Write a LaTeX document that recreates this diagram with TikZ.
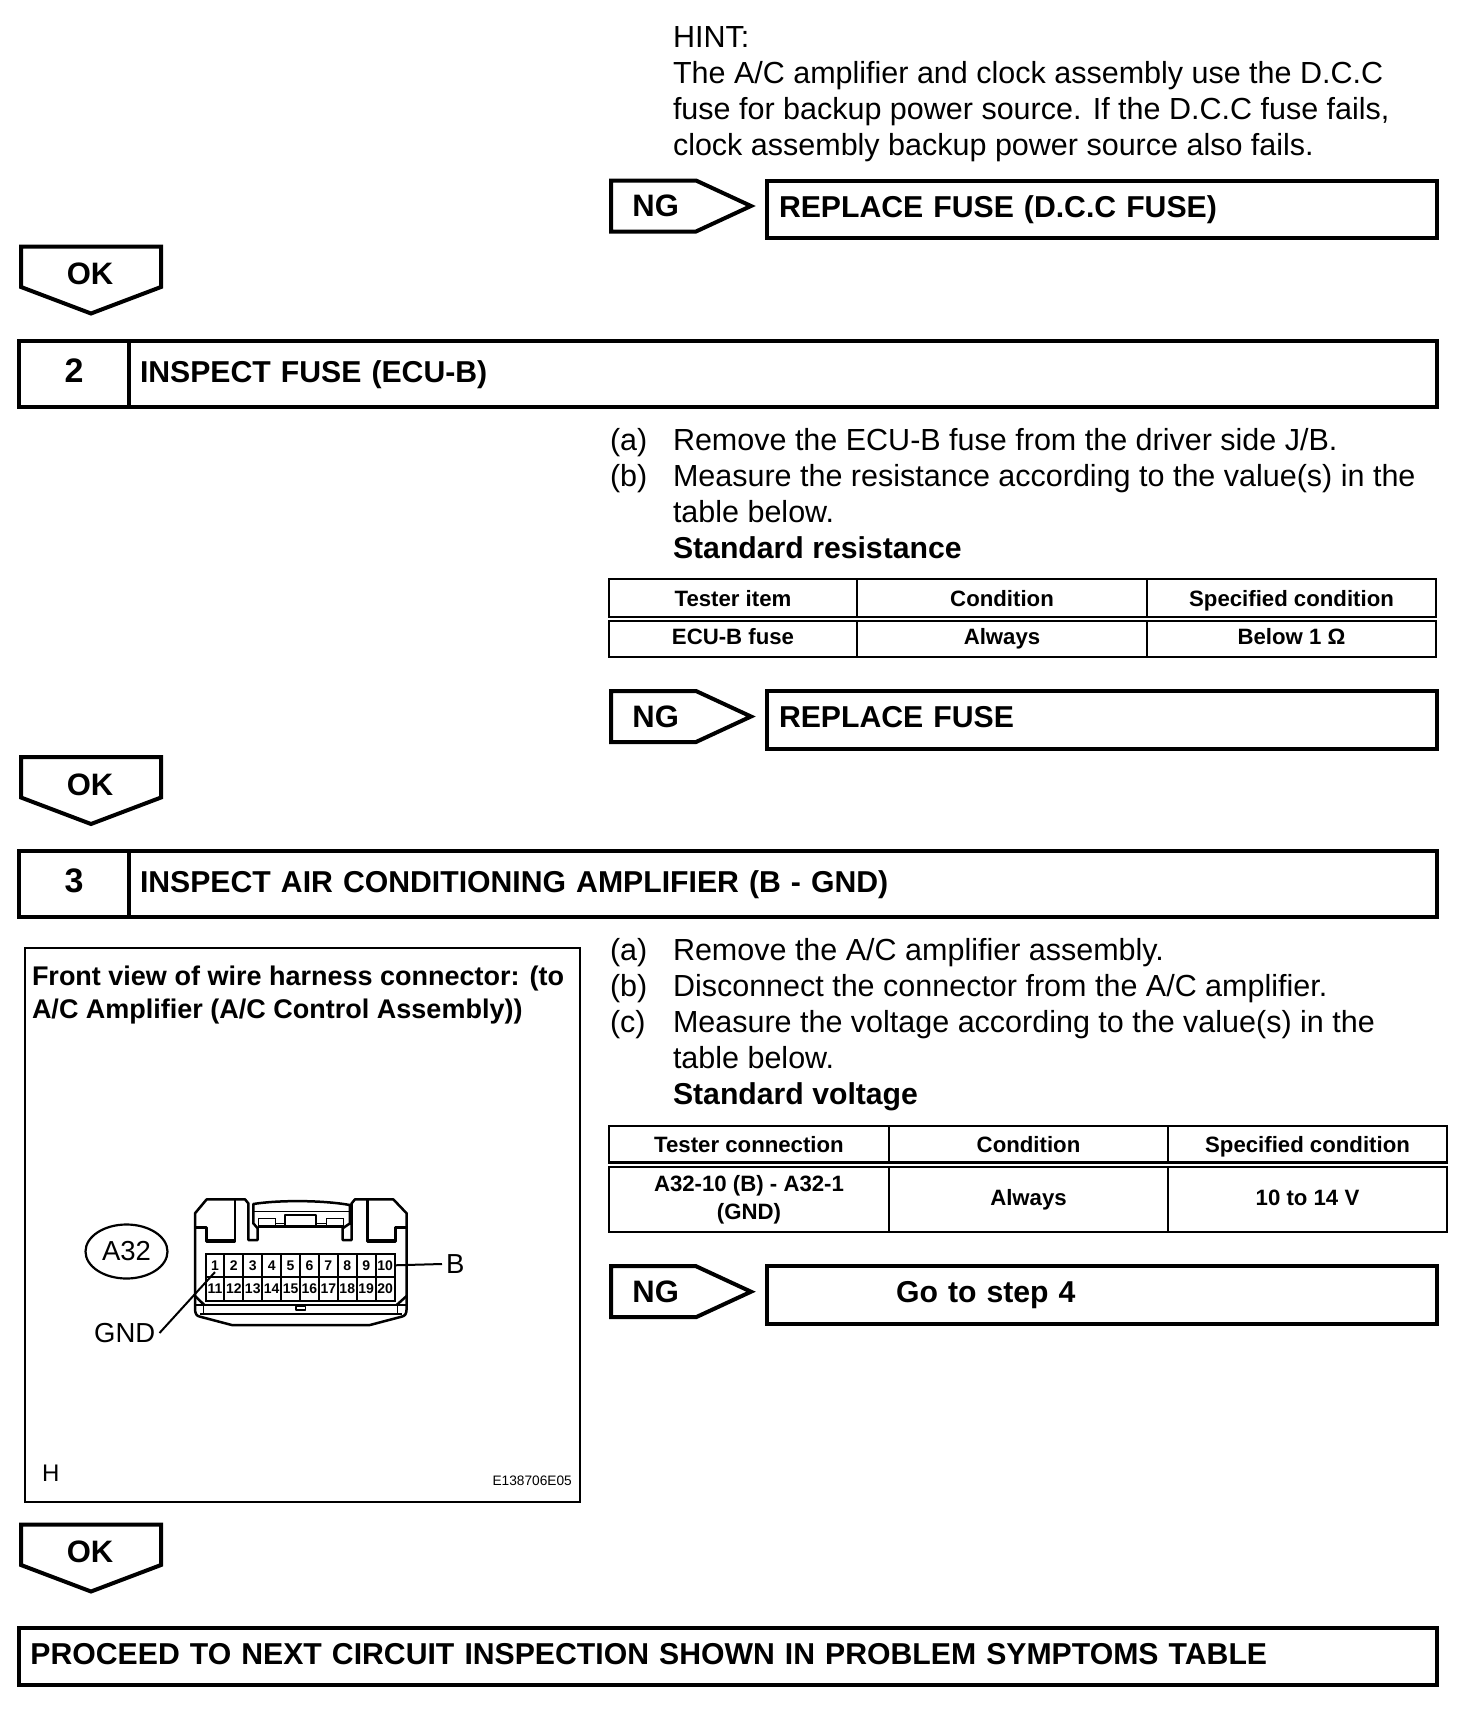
\documentclass[tikz,border=0pt]{standalone}
\usepackage{fontspec}
\setmainfont{Liberation Sans}
\usetikzlibrary{positioning,shapes.geometric}

\begin{document}
\begin{tikzpicture}[
  x=1pt, y=-1pt,
  bodytext/.style={inner sep=0pt, outer sep=0pt, anchor=north west, align=left,
                   font=\fontsize{30.5}{36}\selectfont, text height=27pt, text depth=9.1pt},
  nextline/.style={below=0pt of #1.south west, anchor=north west},
  boldtext/.style={bodytext, font=\fontsize{30.2}{36}\selectfont\bfseries},
  tagline/.style={draw, line width=4pt, line join=miter},
  tagtext/.style={inner sep=0pt, font=\fontsize{31}{36}\selectfont\bfseries},
  resultbox/.style={draw, line width=4pt, inner sep=0pt, outer sep=0pt, anchor=north west,
                    minimum height=#1, text height=21pt, text depth=5.4pt, align=left,
                    font=\fontsize{30.2}{36}\selectfont\bfseries},
  resultbox/.default=57.5pt,
  stepnum/.style={resultbox=66pt, minimum width=110pt, align=center, text width=110pt,
                  text depth=3.4pt, font=\fontsize{34}{36}\selectfont\bfseries},
  steptitle/.style={resultbox=66pt, minimum width=1308pt, text width=1286pt, text depth=3.4pt},
  cellbox/.style={draw, line width=2.6pt, inner sep=0pt, outer sep=0pt, anchor=north west,
                  align=center, text height=16.5pt, text depth=4.8pt,
                  font=\fontsize{22.2}{28.5}\selectfont\bfseries},
  headcell/.style={cellbox, text depth=0pt},
  pincell/.style={draw, line width=2pt, inner sep=0pt, outer sep=0pt, anchor=north west,
                  minimum width=18.9pt, minimum height=23.6pt,
                  font=\fontsize{14}{14}\selectfont\bfseries},
  conn/.style={draw, line width=2.5pt, line join=round},
  thinconn/.style={draw, line width=1.4pt},
  leader/.style={draw, line width=2pt},
  pinlabel/.style={inner sep=0pt, font=\fontsize{27.5}{30}\selectfont}
]
  \useasboundingbox (0,0) rectangle (1456,1718);

  % hint text
  \node[bodytext] (hint) at (673,20.5) {HINT:};
  \node[bodytext, nextline=hint] (hinta) {The A/C amplifier and clock assembly use the D.C.C};
  \node[bodytext, nextline=hinta] (hintb) {fuse for backup power source. If the D.C.C fuse fails,};
  \node[bodytext, nextline=hintb] (hintc) {clock assembly backup power source also fails.};

  % NG tags and OK tags
  \foreach \tagname/\dy in {nga/0,ngb/510.5,ngc/1085.7} {
    \draw[tagline] (611,{180.5+\dy}) -- (696,{180.5+\dy}) -- (751,{206+\dy}) -- (696,{231.5+\dy})
      -- (611,{231.5+\dy}) -- cycle;
    \node[tagtext] (\tagname) at (655.7,{206+\dy}) {NG};
  }
  \foreach \tagname/\dy in {oka/0,okb/510.5,okc/1278} {
    \draw[tagline] (21,{246.5+\dy}) -- (161,{246.5+\dy}) -- (161,{287+\dy}) -- (91,{313.5+\dy})
      -- (21,{287+\dy}) -- cycle;
    \node[tagtext] (\tagname) at (90,{274+\dy}) {OK};
  }

  % result boxes
  \node[resultbox, minimum width=670pt, text width=646pt] (repa) at (767,180.5) {REPLACE FUSE (D.C.C FUSE)};
  \node[resultbox, minimum width=670pt, text width=646pt] (repb) at (767,691) {REPLACE FUSE};
  \node[resultbox, minimum width=670pt, text width=646pt] (gostep) at (767,1266.2) {\hspace*{117pt}Go to step 4};
  \node[resultbox=57pt, minimum width=1418pt, text width=1395pt] (proceed) at (19,1628)
    {PROCEED TO NEXT CIRCUIT INSPECTION SHOWN IN PROBLEM SYMPTOMS TABLE};

  % step 2
  \node[stepnum] (numtwo) at (19,341) {2};
  \node[steptitle, right=0pt of numtwo] (titletwo) {INSPECT FUSE (ECU-B)};
  \node[bodytext] (twoa) at (610,423.5) {(a)};
  \node[bodytext, nextline=twoa] (twob) {(b)};
  \node[bodytext] (twoatext) at (673,423.5) {Remove the ECU-B fuse from the driver side J/B.};
  \node[bodytext, nextline=twoatext] (twobtext) {Measure the resistance according to the value(s) in the};
  \node[bodytext, nextline=twobtext] (twoctext) {table below.};
  \node[boldtext, nextline=twoctext] (twostd) {Standard resistance};

  \node[headcell, minimum width=248pt, minimum height=38pt] (heada) at (609,579) {Tester item};
  \node[headcell, minimum width=290pt, minimum height=38pt, right=0pt of heada] (headb) {Condition};
  \node[headcell, minimum width=289pt, minimum height=38pt, right=0pt of headb] (headc) {Specified condition};
  \node[cellbox, minimum width=248pt, minimum height=36pt] (vala) at (609,621) {ECU-B fuse};
  \node[cellbox, minimum width=290pt, minimum height=36pt, right=0pt of vala] (valb) {Always};
  \node[cellbox, minimum width=289pt, minimum height=36pt, right=0pt of valb] (valc) {Below 1 Ω};

  % step 3
  \node[stepnum] (numthree) at (19,851) {3};
  \node[steptitle, right=0pt of numthree] (titlethree) {INSPECT AIR CONDITIONING AMPLIFIER (B - GND)};
  \node[bodytext] (threea) at (610,933.5) {(a)};
  \node[bodytext, nextline=threea] (threeb) {(b)};
  \node[bodytext, nextline=threeb] (threec) {(c)};
  \node[bodytext] (threeatext) at (673,933.5) {Remove the A/C amplifier assembly.};
  \node[bodytext, nextline=threeatext] (threebtext) {Disconnect the connector from the A/C amplifier.};
  \node[bodytext, nextline=threebtext] (threectext) {Measure the voltage according to the value(s) in the};
  \node[bodytext, nextline=threectext] (threedtext) {table below.};
  \node[boldtext, nextline=threedtext] (threestd) {Standard voltage};

  \node[headcell, minimum width=280pt, minimum height=36.5pt] (headd) at (609,1126) {Tester connection};
  \node[headcell, minimum width=279pt, minimum height=36.5pt, right=0pt of headd] (heade) {Condition};
  \node[headcell, minimum width=279pt, minimum height=36.5pt, right=0pt of heade] (headf) {Specified condition};
  \node[cellbox, text height=, text depth=, minimum width=280pt, minimum height=65pt] (vald) at (609,1167) {A32-10 (B) - A32-1\\(GND)};
  \node[cellbox, minimum width=279pt, minimum height=65pt, right=0pt of vald] (vale) {Always};
  \node[cellbox, minimum width=279pt, minimum height=65pt, right=0pt of vale] (valf) {10 to 14 V};

  % connector panel
  \node[draw, line width=2.4pt, inner sep=0pt, outer sep=0pt, anchor=north west,
        minimum width=555pt, minimum height=554pt] (panel) at (25,948) {};
  \node[bodytext, font=\fontsize{27}{33}\selectfont\bfseries, text height=, text depth=] (paneltitle) at (32,966)
    {Front view of wire harness connector: (to\\A/C Amplifier (A/C Control Assembly))};
  \node[inner sep=0pt, anchor=base west, font=\fontsize{24}{28}\selectfont] (panelh) at (42,1481) {H};
  \node[inner sep=0pt, anchor=base east, font=\fontsize{13.7}{14}\selectfont] (panelcode) at (572,1485) {E138706E05};

  % connector body
  \begin{scope}[shift={(185,1190)}, x=0.3333pt, y=-0.3333pt]
    \draw[conn] (30,355) -- (30,70) -- (65,28) -- (180,28) -- (190,40) -- (190,150) -- (218,150)
      -- (218,115) -- (205,100) -- (205,42) .. controls (280,30) and (410,30) .. (495,45)
      -- (495,100) -- (473,115) -- (473,150) -- (500,150) -- (500,40) -- (510,28) -- (625,28)
      -- (665,70) -- (665,355)
      .. controls (665,372) and (660,378) .. (650,380) -- (555,405) -- (140,405) -- (45,380)
      .. controls (35,378) and (30,372) .. (30,355) -- cycle;
    \draw[conn] (30,112) -- (65,112) -- (65,155) -- (150,155) -- (150,30);
    \draw[conn] (665,112) -- (632,112) -- (632,155) -- (548,155) -- (548,30);
    \draw[thinconn] (70,148) -- (150,148);
    \draw[thinconn] (548,148) -- (628,148);
    \draw[thinconn] (205,65) -- (495,65);
    \draw[conn] (218,110) -- (475,110);
    \draw[conn] (300,108) rectangle (393,75);
    \draw[thinconn] (220,108) rectangle (272,85);
    \draw[thinconn] (425,108) rectangle (475,85);
    \draw[thinconn] (272,100) -- (300,100);
    \draw[thinconn] (393,100) -- (425,100);
    \draw[conn] (30,318) -- (58,345);
    \draw[conn] (665,318) -- (635,345);
    \draw[conn] (32,345) -- (663,345);
    \draw[thinconn] (45,372) -- (650,372);
    \draw[thinconn] (55,345) -- (55,372);
    \draw[thinconn] (637,345) -- (637,372);
    \draw[conn, line width=1.6pt] (333,350) rectangle (362,360);
  \end{scope}

  % pins
  \foreach \n [evaluate=\n as \lowpin using int(\n+10)] in {1,...,10} {
    \node[pincell] (pin\n) at ({205.5+18.9*(\n-1)},1253.5) {\n};
    \node[pincell] (pin\lowpin) at ({205.5+18.9*(\n-1)},1277.1) {\lowpin};
  }

  % labels and leaders
  \node[draw, ellipse, line width=2.2pt, minimum width=82pt, minimum height=54pt, inner sep=0pt,
        pinlabel] (plug) at (126.5,1251.5) {A32};
  \node[pinlabel, anchor=west, inner xsep=4pt] (labelb) at (442,1264) {B};
  \node[pinlabel, anchor=east, inner xsep=4pt] (labelgnd) at (159.5,1333) {GND};
  \draw[leader] (pin10.east) -- (labelb.west);
  \draw[leader] (labelgnd.east) -- ([yshift=5pt]pin1.south);
\end{tikzpicture}
\end{document}
